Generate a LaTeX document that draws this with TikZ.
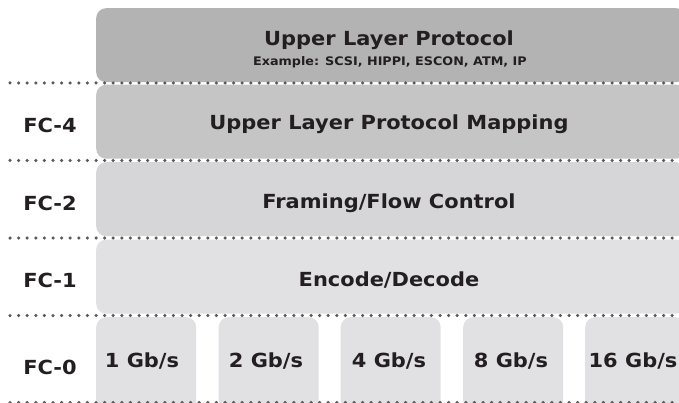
\documentclass[tikz,border=0pt]{standalone}
\usepackage{fontspec}
\setmainfont{DejaVu Sans}
\newfontfamily\widefont[FakeStretch=1.08]{DejaVu Sans}
\definecolor{cTop}{HTML}{B3B3B4}
\definecolor{cFour}{HTML}{C5C5C6}
\definecolor{cTwo}{HTML}{D6D6D8}
\definecolor{cOne}{HTML}{E1E1E3}
\definecolor{cDot}{HTML}{5A5A5A}
\definecolor{cText}{HTML}{231F20}
\tikzset{
  layerbox/.style={rounded corners=10pt, inner sep=0pt, anchor=north west},
  dotline/.style={cDot, line width=3.5pt, line cap=round, dash pattern=on 0pt off 8.6pt},
  biglabel/.style={font=\widefont\bfseries\fontsize{19.4}{22}\selectfont, text=cText, inner sep=0pt},
  smalllabel/.style={font=\widefont\bfseries\fontsize{11.8}{13}\selectfont, text=cText, inner sep=0pt},
}
\begin{document}
\begin{tikzpicture}[x=1pt,y=-1pt]
\clip (0,0) rectangle (679,403);
\fill[white] (0,0) rectangle (679,403);
% layer boxes
\node[layerbox, fill=cTop, minimum width=590pt, minimum height=74pt] (ulp) at (96,8) {};
\node[layerbox, fill=cFour, minimum width=590pt, minimum height=74pt] (fc4box) at (96,84.5) {};
\node[layerbox, fill=cTwo, minimum width=590pt, minimum height=74pt] (fc2box) at (96,162) {};
\node[layerbox, fill=cOne, minimum width=590pt, minimum height=74pt] (fc1box) at (96,239.5) {};
\node[layerbox, fill=cOne, minimum width=100pt, minimum height=94pt] (r1) at (96,317) {};
\node[layerbox, fill=cOne, minimum width=100pt, minimum height=94pt] (r2) at (218.5,317) {};
\node[layerbox, fill=cOne, minimum width=100pt, minimum height=94pt] (r4) at (340.5,317) {};
\node[layerbox, fill=cOne, minimum width=100pt, minimum height=94pt] (r8) at (463,317) {};
\node[layerbox, fill=cOne, minimum width=100pt, minimum height=94pt] (r16) at (585,317) {};
% dotted separators
\coordinate (d1a) at (10,83); \coordinate (d1b) at (676,83);
\coordinate (d2a) at (10,160.5); \coordinate (d2b) at (676,160.5);
\coordinate (d3a) at (10,238); \coordinate (d3b) at (676,238);
\coordinate (d4a) at (10,315.5); \coordinate (d4b) at (676,315.5);
\coordinate (d5a) at (10,402.5); \coordinate (d5b) at (676,402.5);
\draw[dotline] (d1a) -- (d1b);
\draw[dotline] (d2a) -- (d2b);
\draw[dotline] (d3a) -- (d3b);
\draw[dotline] (d4a) -- (d4b);
\draw[dotline] (d5a) -- (d5b);
% texts
\node[biglabel] (t0) at (389,40) {Upper Layer Protocol};
\node[smalllabel] (t0b) at (390,62) {Example: SCSI, HIPPI, ESCON, ATM, IP};
\node[biglabel] (t4) at (389,124) {Upper Layer Protocol Mapping};
\node[biglabel] (t2) at (389,203) {Framing/Flow Control};
\node[biglabel] (t1) at (389,280) {Encode/Decode};
\node[biglabel] (l4) at (50,125) {FC-4};
\node[biglabel] (l2) at (50,203) {FC-2};
\node[biglabel] (l1) at (50,280) {FC-1};
\node[biglabel] (l0) at (50,367) {FC-0};
\node[biglabel] (s1) at (142,361) {1 Gb/s};
\node[biglabel] (s2) at (266,361) {2 Gb/s};
\node[biglabel] (s4) at (389,361) {4 Gb/s};
\node[biglabel] (s8) at (511,361) {8 Gb/s};
\node[biglabel] (s16) at (633,361) {16 Gb/s};
\end{tikzpicture}
\end{document}
